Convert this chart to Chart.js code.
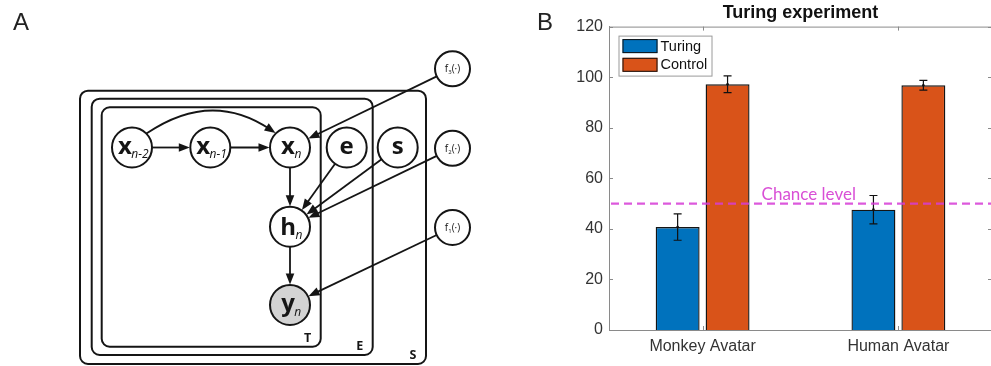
<!DOCTYPE html>
<html><head><meta charset="utf-8">
<script src="https://cdn.jsdelivr.net/npm/chart.js@4.4.1/dist/chart.umd.min.js"></script>
<style>
html,body{margin:0;padding:0;overflow:hidden;background:#fff;width:991px;height:366px;}
#wa{position:absolute;left:0;top:0;width:530px;height:366px;}
#wb{position:absolute;left:530px;top:0;width:470px;height:366px;}
</style></head><body>
<div id="wa"><canvas id="ca"></canvas></div>
<div id="wb"><canvas id="cb"></canvas></div>
<script>
// ---------- Panel B data ----------
const categories = ['Monkey Avatar', 'Human Avatar'];
const seriesNames = ['Turing', 'Control'];
const turingMean = [40.7, 47.6];
const turingErr = [5.2, 5.6];
const controlMean = [97.2, 96.8];
const controlErr = [3.3, 1.9];
const yTicks = [0, 20, 40, 60, 80, 100, 120];
const chanceLevel = 50;
const chanceLabel = 'Chance level';
const chartTitle = 'Turing experiment';

// ---------- Panel A data (graphical model) ----------
const nodeIds = ['xn2', 'xn1', 'xn', 'e', 's', 'hn', 'yn', 'f3', 'f2', 'f1'];
const nodeMain = ['x', 'x', 'x', 'e', 's', 'h', 'y', 'f', 'f', 'f'];
const nodeSub = ['n-2', 'n-1', 'n', '', '', 'n', 'n', '3', '2', '1'];
const nodeX = [132, 210.3, 290, 346.7, 397.7, 290, 290, 452.5, 452.5, 452.5];
const nodeY = [147.5, 147.5, 147.5, 147.5, 147.5, 226.7, 305, 68.8, 148.3, 227.5];
const nodeR = [20, 20, 20, 20, 20, 20, 20, 17.5, 17.5, 17.5];
const nodeObserved = [0, 0, 0, 0, 0, 0, 1, 0, 0, 0];
const edgeFrom = ['xn2', 'xn1', 'xn', 'e', 's', 'f2', 'hn', 'f1', 'f3'];
const edgeTo = ['xn1', 'xn', 'hn', 'hn', 'hn', 'hn', 'yn', 'yn', 'xn'];
const curveFrom = 'xn2', curveTo = 'xn';
const curveAngles = [-44, -135];
const curvePeakY = 111.5;
const plateNames = ['T', 'E', 'S'];
const plateLeft = [101.7, 91.7, 80];
const plateTop = [107.3, 98.7, 90.7];
const plateRight = [320.7, 372.7, 426];
const plateBottom = [346.7, 355, 364];

const idx = id => nodeIds.indexOf(id);
const INK = '#151515';
const AH_LEN = 11, AH_HW = 4.3, EDGE_W = 1.8;

function arrowHead(ctx, tx, ty, ux, uy, len, hw) {
  ctx.beginPath();
  ctx.moveTo(tx, ty);
  ctx.lineTo(tx - ux * len - uy * hw, ty - uy * len + ux * hw);
  ctx.lineTo(tx - ux * len + uy * hw, ty - uy * len - ux * hw);
  ctx.closePath();
  ctx.fillStyle = INK;
  ctx.fill();
}

const edgeDatasets = edgeFrom.map((f, k) => {
  const i = idx(f), j = idx(edgeTo[k]);
  const dx = nodeX[j] - nodeX[i], dy = nodeY[j] - nodeY[i], L = Math.hypot(dx, dy);
  const ux = dx / L, uy = dy / L;
  const tip = { x: nodeX[j] - ux * (nodeR[j] + 0.5), y: nodeY[j] - uy * (nodeR[j] + 0.5) };
  return {
    type: 'line',
    data: [{ x: nodeX[i] + ux * nodeR[i], y: nodeY[i] + uy * nodeR[i] },
           { x: tip.x - ux * 7, y: tip.y - uy * 7 }],
    borderColor: INK, borderWidth: EDGE_W, pointRadius: 0, fill: false, order: 2,
    tip: tip, dir: { x: ux, y: uy }
  };
});

function roundRect(ctx, x0, y0, x1, y1, r) {
  ctx.beginPath();
  ctx.moveTo(x0 + r, y0);
  ctx.lineTo(x1 - r, y0);
  ctx.arcTo(x1, y0, x1, y0 + r, r);
  ctx.lineTo(x1, y1 - r);
  ctx.arcTo(x1, y1, x1 - r, y1, r);
  ctx.lineTo(x0 + r, y1);
  ctx.arcTo(x0, y1, x0, y1 - r, r);
  ctx.lineTo(x0, y0 + r);
  ctx.arcTo(x0, y0, x0 + r, y0, r);
  ctx.closePath();
}

const diagramPlugin = {
  id: 'diagram',
  beforeDatasetsDraw(chart) {
    const ctx = chart.ctx, sx = chart.scales.x, sy = chart.scales.y;
    const px = v => sx.getPixelForValue(v), py = v => sy.getPixelForValue(v);
    ctx.save();
    ctx.strokeStyle = INK; ctx.lineWidth = 2;
    plateNames.forEach((n, k) => {
      const x0 = px(plateLeft[k]), x1 = px(plateRight[k]), y0 = py(plateTop[k]), y1 = py(plateBottom[k]);
      roundRect(ctx, x0, y0, x1, y1, 8);
      ctx.stroke();
      ctx.fillStyle = INK;
      ctx.font = 'bold 12.5px "Open Sans"';
      ctx.textAlign = 'center'; ctx.textBaseline = 'alphabetic';
      ctx.fillText(n, x1 - 13, y1 - 5);
    });
    // curved edge
    const i = idx(curveFrom), j = idx(curveTo);
    const a0 = curveAngles[0] * Math.PI / 180, a1 = curveAngles[1] * Math.PI / 180;
    const p0 = { x: px(nodeX[i] + nodeR[i] * Math.cos(a0)), y: py(nodeY[i] + nodeR[i] * Math.sin(a0)) };
    const p2 = { x: px(nodeX[j] + (nodeR[j] + 0.5) * Math.cos(a1)), y: py(nodeY[j] + (nodeR[j] + 0.5) * Math.sin(a1)) };
    const peak = py(curvePeakY);
    const p1 = { x: (p0.x + p2.x) / 2, y: 2 * peak - 0.5 * (p0.y + p2.y) };
    const dx = p2.x - p1.x, dy = p2.y - p1.y, L = Math.hypot(dx, dy);
    const ux = dx / L, uy = dy / L;
    ctx.beginPath();
    ctx.moveTo(p0.x, p0.y);
    ctx.quadraticCurveTo(p1.x, p1.y, p2.x - ux * 7, p2.y - uy * 7);
    ctx.lineWidth = EDGE_W; ctx.stroke();
    arrowHead(ctx, p2.x, p2.y, ux, uy, AH_LEN, AH_HW);
    // panel letter
    ctx.fillStyle = '#222';
    ctx.font = '24px "Liberation Sans"';
    ctx.textAlign = 'left';
    ctx.fillText('A', 13, 30);
    ctx.restore();
  },
  afterDatasetsDraw(chart) {
    const ctx = chart.ctx, sx = chart.scales.x, sy = chart.scales.y;
    const px = v => sx.getPixelForValue(v), py = v => sy.getPixelForValue(v);
    ctx.save();
    chart.data.datasets.forEach(ds => {
      if (ds.tip) arrowHead(ctx, px(ds.tip.x), py(ds.tip.y), ds.dir.x, ds.dir.y, AH_LEN, AH_HW);
    });
    ctx.fillStyle = INK;
    ctx.textBaseline = 'alphabetic';
    ctx.textAlign = 'left';
    nodeIds.forEach((id, k) => {
      const cx = px(nodeX[k]), cy = py(nodeY[k]);
      if (nodeMain[k] === 'f') {
        ctx.font = '10px "Open Sans"';
        const w1 = ctx.measureText('f').width;
        ctx.font = '6px "Open Sans"';
        const w2 = ctx.measureText(nodeSub[k]).width;
        ctx.font = '10px "Open Sans"';
        const w3 = ctx.measureText('(·)').width;
        let x = cx - (w1 + w2 + w3) / 2;
        ctx.fillText('f', x, cy + 3.5); x += w1;
        ctx.font = '6px "Open Sans"';
        ctx.fillText(nodeSub[k], x, cy + 5.5); x += w2;
        ctx.font = '10px "Open Sans"';
        ctx.fillText('(·)', x, cy + 3.5);
      } else {
        ctx.font = 'bold 24px "Open Sans"';
        const w1 = ctx.measureText(nodeMain[k]).width;
        ctx.font = 'italic 12px "Open Sans"';
        const w2 = nodeSub[k] ? ctx.measureText(nodeSub[k]).width : 0;
        const base = cy + (nodeMain[k] === 'h' ? 8 : 6);
        let x = cx - (w1 + w2) / 2 + (w2 ? 1.5 : 0);
        ctx.font = 'bold 24px "Open Sans"';
        ctx.fillText(nodeMain[k], x, base);
        if (w2) {
          ctx.font = 'italic 12px "Open Sans"';
          ctx.fillText(nodeSub[k], x + w1 - 0.5, base + 4.5);
        }
      }
    });
    ctx.restore();
  }
};

new Chart(document.getElementById('ca'), {
  type: 'scatter',
  data: {
    datasets: [
      {
        type: 'scatter',
        data: nodeX.map((x, k) => ({ x: x, y: nodeY[k] })),
        pointRadius: nodeR,
        pointBackgroundColor: nodeObserved.map(o => o ? '#d3d3d3' : '#ffffff'),
        pointBorderColor: INK,
        pointBorderWidth: 2,
        clip: false,
        order: 0
      },
      ...edgeDatasets
    ]
  },
  options: {
    animation: false, responsive: true, maintainAspectRatio: false, events: [],
    layout: { padding: 0, autoPadding: false },
    scales: {
      x: { type: 'linear', min: 0, max: 530, display: false },
      y: { type: 'linear', min: 0, max: 366, reverse: true, display: false }
    },
    plugins: { legend: { display: false }, tooltip: { enabled: false } }
  },
  plugins: [diagramPlugin]
});

// ---------- Panel B chart ----------
const AXIS = '#8a8a8a';
const FONT = '"Liberation Sans", Arial, sans-serif';
const errPlugin = {
  id: 'extras',
  afterDatasetsDraw(chart) {
    const ctx = chart.ctx, ca = chart.chartArea, ys = chart.scales.y, xs = chart.scales.x;
    ctx.save();
    // error bars
    chart.data.datasets.forEach((ds, di) => {
      const meta = chart.getDatasetMeta(di);
      meta.data.forEach((bar, i) => {
        const m = ds.data[i].y, e = ds.err[i];
        const yt = ys.getPixelForValue(m + e), yb = ys.getPixelForValue(m - e);
        ctx.strokeStyle = '#111'; ctx.lineWidth = 1.2;
        ctx.beginPath();
        ctx.moveTo(bar.x, yt); ctx.lineTo(bar.x, yb);
        ctx.moveTo(bar.x - 4, yt); ctx.lineTo(bar.x + 4, yt);
        ctx.moveTo(bar.x - 4, yb); ctx.lineTo(bar.x + 4, yb);
        ctx.stroke();
        ctx.fillStyle = '#111';
        ctx.beginPath(); ctx.arc(bar.x, ys.getPixelForValue(m), 1.3, 0, Math.PI * 2); ctx.fill();
      });
    });
    // chance level
    const yc = ys.getPixelForValue(chanceLevel);
    ctx.strokeStyle = 'rgba(214, 60, 214, 0.85)';
    ctx.lineWidth = 2.2;
    ctx.setLineDash([8, 5]);
    ctx.beginPath(); ctx.moveTo(ca.left + 2, yc); ctx.lineTo(ca.right, yc); ctx.stroke();
    ctx.setLineDash([]);
    ctx.fillStyle = '#d94fd6';
    ctx.font = '17px Lato';
    ctx.textAlign = 'left'; ctx.textBaseline = 'alphabetic';
    ctx.fillText(chanceLabel, xs.getPixelForValue(1.301), yc - 4);
    // axes box and inward ticks
    ctx.strokeStyle = AXIS; ctx.lineWidth = 1;
    ctx.beginPath();
    ctx.moveTo(ca.left, ca.top + 0.5); ctx.lineTo(ca.right, ca.top + 0.5);
    ys.ticks.forEach(t => {
      const y = Math.round(ys.getPixelForValue(t.value)) + 0.5;
      ctx.moveTo(ca.left, y); ctx.lineTo(ca.left + 4, y);
      ctx.moveTo(ca.right - 4, y); ctx.lineTo(ca.right, y);
    });
    xs.ticks.forEach(t => {
      const x = Math.round(xs.getPixelForValue(t.value)) + 0.5;
      ctx.moveTo(x, ca.bottom); ctx.lineTo(x, ca.bottom - 4);
      ctx.moveTo(x, ca.top); ctx.lineTo(x, ca.top + 4);
    });
    ctx.stroke();
    // legend
    const lx = ca.left + 9.5, ly = ca.top + 9, lw = 93, lh = 40;
    ctx.fillStyle = '#fff';
    ctx.fillRect(lx, ly, lw, lh);
    ctx.strokeStyle = '#9a9a9a';
    ctx.strokeRect(lx + 0.5, ly + 0.5, lw, lh);
    chart.data.datasets.forEach((ds, di) => {
      const sy = ly + 3.5 + di * 18.7;
      ctx.fillStyle = ds.backgroundColor;
      ctx.fillRect(lx + 4, sy, 35, 14);
      ctx.strokeStyle = '#111';
      ctx.strokeRect(lx + 4.5, sy + 0.5, 34, 13);
      ctx.fillStyle = '#111';
      ctx.font = '14.5px ' + FONT;
      ctx.textBaseline = 'middle';
      ctx.fillText(ds.label, lx + 42, sy + 7.5);
    });
    // panel letter
    ctx.fillStyle = '#222';
    ctx.font = '24px "Liberation Sans"';
    ctx.textBaseline = 'alphabetic';
    ctx.fillText('B', 7, 30);
    ctx.restore();
  }
};

new Chart(document.getElementById('cb'), {
  type: 'bar',
  data: {
    datasets: [
      { label: seriesNames[0], data: categories.map((c, i) => ({ x: i + 1, y: turingMean[i] })),
        err: turingErr, backgroundColor: '#0072BD', borderColor: '#151515', borderWidth: 1.4 },
      { label: seriesNames[1], data: categories.map((c, i) => ({ x: i + 1, y: controlMean[i] })),
        err: controlErr, backgroundColor: '#D95319', borderColor: '#151515', borderWidth: 1.4 }
    ]
  },
  options: {
    animation: false, responsive: true, maintainAspectRatio: false, events: [],
    layout: { padding: { left: 0, right: 8, top: 0, bottom: 0 } },
    datasets: { bar: { barPercentage: 0.88, categoryPercentage: 0.51 } },
    scales: {
      x: {
        type: 'linear', min: 0.522, max: 2.478, offset: false,
        grid: { display: false, drawTicks: false },
        border: { color: AXIS },
        afterBuildTicks: s => { s.ticks = categories.map((c, i) => ({ value: i + 1 })); },
        ticks: { callback: v => categories[v - 1], font: { size: 16, family: FONT }, color: '#333',
                 padding: 7, maxRotation: 0, autoSkip: false },
        afterFit: s => { s.height = 36; }
      },
      y: {
        type: 'linear', min: 0, max: 120,
        afterBuildTicks: s => { s.ticks = yTicks.map(v => ({ value: v })); },
        grid: { display: false, drawTicks: false },
        border: { color: AXIS },
        ticks: { font: { size: 16, family: FONT }, color: '#333', padding: 6 },
        afterFit: s => { s.width = 79; }
      }
    },
    plugins: {
      legend: { display: false }, tooltip: { enabled: false },
      title: { display: true, text: chartTitle, fullSize: false, color: '#111',
               font: { size: 18, weight: 'bold', family: FONT }, padding: { top: 2, bottom: 3 } }
    }
  },
  plugins: [errPlugin]
});
</script>
</body></html>
